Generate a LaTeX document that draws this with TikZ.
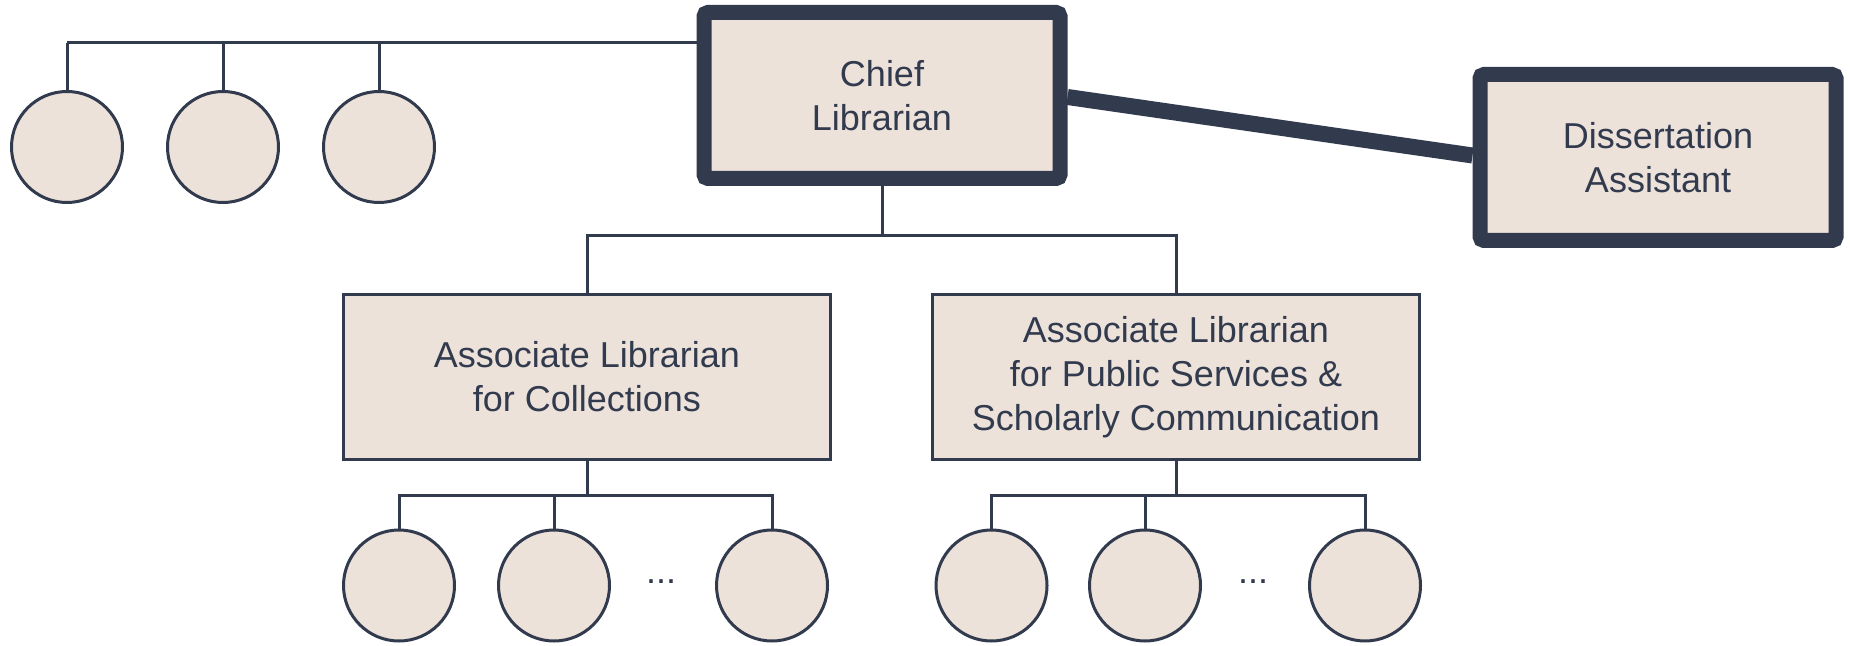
\documentclass[tikz,border=0pt]{standalone}
\usepackage{fontspec}
\setmainfont{Liberation Sans}
\definecolor{boxfill}{RGB}{236,226,218}
\definecolor{ink}{RGB}{50,58,78}

\begin{document}
\begin{tikzpicture}[
      x=0.5pt, y=-0.5pt,
      every node/.style={text=ink, font=\fontsize{18}{22}\selectfont, align=center},
      lead/.style={draw=ink, fill=boxfill, line width=7.5pt, rounded corners=2pt, rectangle, minimum width=178pt, minimum height=83pt},
      assoc/.style={draw=ink, fill=boxfill, line width=1.5pt, rectangle, minimum width=243.5pt, minimum height=82pt},
      staff/.style={draw=ink, fill=boxfill, line width=1.5pt, circle, minimum size=55.5pt, inner sep=0pt},
      link/.style={draw=ink, line width=1.5pt}
    ]
    \useasboundingbox (0,0) rectangle (1850,646);
    % Chief and assistant
    \node [lead] (chief) at (882,95.5) {Chief\\Librarian};
    \node [lead] (assist) at (1658,157.5) {Dissertation\\Assistant};
    \draw [draw=ink, line width=8pt] (chief.east |- 0,97) -- (assist.west |- 0,155.5);
    % Staff next to the chief
    \coordinate (topbus) at (0,42.7);
    \foreach \i/\x in {1/67, 2/223, 3/379} {
      \node [staff] (top\i) at (\x,147) {};
      \draw [link] (top\i.north) -- (top\i.north |- topbus);
    }
    \draw [link] (chief.west |- topbus) -- (top1.north |- topbus);
    % Associate librarians
    \node [assoc] (coll) at (587,377) {Associate Librarian\\for Collections};
    \node [assoc] (pub) at (1176,377) {Associate Librarian\\for Public Services \&\\Scholarly Communication};
    \coordinate (midbus) at (0,236);
    \draw [link] (chief.south) -- (chief.south |- midbus);
    \draw [link] (coll.north) -- (coll.north |- midbus) -- (pub.north |- midbus) -- (pub.north);
    % Staff under each associate librarian
    \coordinate (lowbus) at (0,495);
    \foreach \i/\x in {1/399, 2/554, 3/772} {
      \node [staff] (coll\i) at (\x,585.5) {};
    }
    \foreach \i/\x in {1/991.5, 2/1145, 3/1365} {
      \node [staff] (pub\i) at (\x,585.5) {};
    }
    \node (colldots) at (661,582) {...};
    \node (pubdots) at (1253,582) {...};
    \draw [link] (coll.south) -- (coll.south |- lowbus);
    \draw [link] (coll1.north) -- (coll1.north |- lowbus) -- (coll3.north |- lowbus) -- (coll3.north);
    \draw [link] (coll2.north) -- (coll2.north |- lowbus);
    \draw [link] (pub.south) -- (pub.south |- lowbus);
    \draw [link] (pub1.north) -- (pub1.north |- lowbus) -- (pub3.north |- lowbus) -- (pub3.north);
    \draw [link] (pub2.north) -- (pub2.north |- lowbus);
\end{tikzpicture}
\end{document}
